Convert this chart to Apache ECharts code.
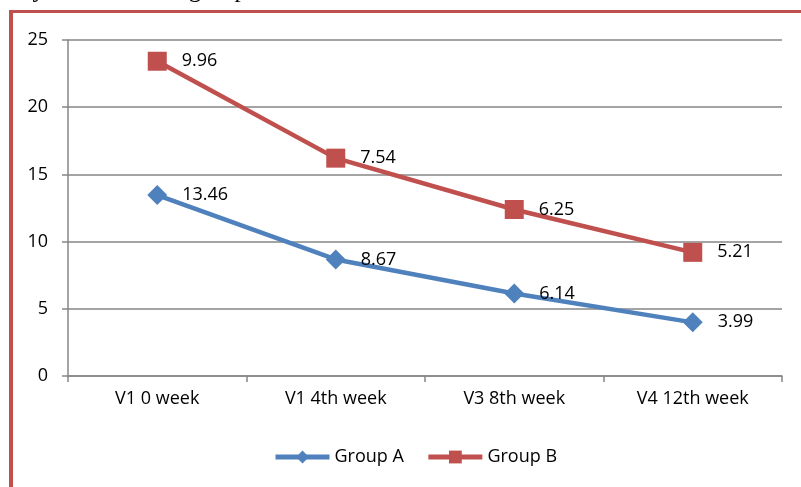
<!DOCTYPE html>
<html>
<head>
<meta charset="utf-8">
<script src="https://cdn.jsdelivr.net/npm/echarts@6/dist/echarts.min.js"></script>
<style>
html,body{margin:0;padding:0;background:#fff;}
#c{width:801px;height:487px;}
</style>
</head>
<body>
<div id="c"></div>
<script>
var categories = ['V1 0 week', 'V1 4th week', 'V3 8th week', 'V4 12th week'];
var groupA = [13.46, 8.67, 6.14, 3.99];
var groupB = [9.96, 7.54, 6.25, 5.21];
var seriesNames = ['Group A', 'Group B'];
var yMin = 0, yMax = 25, yStep = 5;
var captionText = 'by the treatment group';

var FONT = '"Open Sans", "Noto Sans", sans-serif';
var chart = echarts.init(document.getElementById('c'), null, {renderer: 'canvas'});
chart.setOption({
  animation: false,
  backgroundColor: '#ffffff',
  grid: {left: 68, right: 19, top: 40, bottom: 111},
  graphic: [
    {type: 'text', left: 20, top: -22, z: 0,
     style: {text: captionText, font: '25px "Liberation Serif", serif', fill: '#000'}},
    {type: 'rect', shape: {x: 9, y: 10, width: 792, height: 3}, style: {fill: '#C0504D'}},
    {type: 'rect', shape: {x: 9, y: 10, width: 4, height: 477}, style: {fill: '#C0504D'}}
  ],
  legend: {
    left: 268, top: 443,
    itemWidth: 54, itemHeight: 16, itemGap: 22,
    lineStyle: {width: 5},
    textStyle: {fontFamily: FONT, fontSize: 18, color: '#000'},
    data: seriesNames
  },
  xAxis: {
    type: 'category', data: categories, boundaryGap: true,
    axisLine: {lineStyle: {color: '#868686', width: 1.5}},
    axisTick: {show: true, length: 6, lineStyle: {color: '#868686', width: 1.5}},
    axisLabel: {fontFamily: FONT, fontSize: 18, color: '#000', margin: 14}
  },
  yAxis: {
    type: 'value', min: yMin, max: yMax, interval: yStep,
    axisLine: {show: true, lineStyle: {color: '#868686', width: 1.5}},
    axisTick: {show: true, length: 6, lineStyle: {color: '#868686', width: 1.5}},
    axisLabel: {fontFamily: FONT, fontSize: 18, color: '#000', margin: 20},
    splitLine: {lineStyle: {color: '#868686', width: 1.5}}
  },
  series: [
    {name: seriesNames[0], type: 'line', stack: 'total', data: groupA,
     symbol: 'diamond', symbolSize: 20,
     lineStyle: {color: '#4F81BD', width: 4.5},
     itemStyle: {color: '#4F81BD'},
     label: {show: true, position: 'right', distance: 15, fontFamily: FONT, fontSize: 18, color: '#000'}},
    {name: seriesNames[1], type: 'line', stack: 'total', data: groupB,
     symbol: 'rect', symbolSize: 19,
     lineStyle: {color: '#C0504D', width: 4.5},
     itemStyle: {color: '#C0504D'},
     label: {show: true, position: 'right', distance: 15, fontFamily: FONT, fontSize: 18, color: '#000'}}
  ]
});
</script>
</body>
</html>
